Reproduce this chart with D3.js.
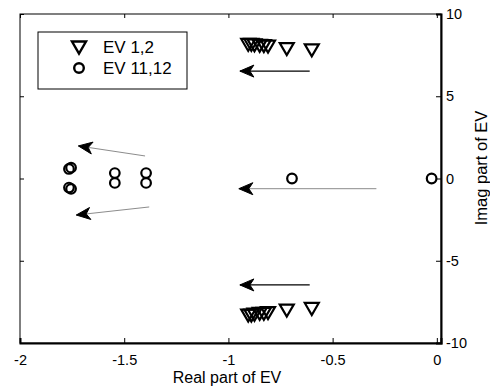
<!doctype html>
<html>
<head>
<meta charset="utf-8">
<script src="https://d3js.org/d3.v7.min.js"></script>
<style>
body { margin: 0; background: #fff; }
svg text { font-family: Arial, "Liberation Sans", sans-serif; font-size: 16px; }
</style>
</head>
<body>
<script>
// eigenvalues 1,2 (triangles), upper and lower conjugate branch
var ev12Real = [-0.905, -0.89, -0.875, -0.85, -0.83, -0.81, -0.72, -0.60];
var ev12ImagUp = [8.15, 8.15, 8.12, 8.1, 8.08, 8.05, 7.9, 7.82];
var ev12ImagDown = [-8.3, -8.3, -8.25, -8.2, -8.2, -8.15, -8.0, -7.9];

// eigenvalues 11,12 (circles)
var ev1112Real = [-1.765, -1.755, -1.765, -1.755, -1.545, -1.545, -1.395, -1.395, -0.695, -0.025];
var ev1112Imag = [0.58, 0.66, -0.55, -0.63, 0.33, -0.27, 0.33, -0.27, 0.0, 0.0];

// arrows [x1, y1, x2, y2] in data units, tip at (x2, y2)
var arrowsBlack = [[-0.61, 6.53, -0.945, 6.53], [-0.61, -6.47, -0.945, -6.47]];
var arrowsGray = [[-0.29, -0.62, -0.95, -0.62], [-1.40, 1.37, -1.72, 1.98], [-1.38, -1.73, -1.73, -2.22]];

var xTicks = [-2, -1.5, -1, -0.5, 0];
var yTicks = [-10, -5, 0, 5, 10];
var legendLabels = ["EV 1,2", "EV 11,12"];

var W = 490, H = 391;
var svg = d3.select("body").append("svg").attr("width", W).attr("height", H);

var x = d3.scaleLinear().domain([-2, 0.02]).range([20, 441]);
var y = d3.scaleLinear().domain([-10, 10]).range([343, 14]);

var tri = "M-7,-5.5L7,-5.5L0,6.5Z";
var fmt = function(d) { return String(d); };

// box
svg.append("rect").attr("x", 20).attr("y", 14).attr("width", 421).attr("height", 329)
  .attr("fill", "none").attr("stroke", "#000").attr("stroke-width", 1);

// bottom axis
var gx = svg.append("g").attr("transform", "translate(0,343)")
  .call(d3.axisBottom(x).tickValues(xTicks).tickSize(-5).tickPadding(12).tickFormat(fmt));
gx.select(".domain").attr("stroke-width", 2);
// top ticks
svg.append("g").attr("transform", "translate(0,14)")
  .call(d3.axisTop(x).tickValues(xTicks).tickSize(-4).tickFormat(""))
  .select(".domain").remove();
// left ticks
svg.append("g").attr("transform", "translate(20,0)")
  .call(d3.axisLeft(y).tickValues(yTicks).tickSize(-4).tickFormat(""))
  .select(".domain").remove();
// right axis with labels
var gy = svg.append("g").attr("transform", "translate(441,0)")
  .call(d3.axisRight(y).tickValues(yTicks).tickSize(-5).tickPadding(10).tickFormat(fmt));
gy.select(".domain").attr("stroke-width", 2);
gy.selectAll(".tick text").attr("x", 5);

svg.selectAll(".tick text").style("font-size", "14.5px").attr("fill", "#000")
  .style("font-family", "Arial, 'Liberation Sans', sans-serif");

// axis titles
svg.append("text").attr("x", 227).attr("y", 383).attr("text-anchor", "middle").text("Real part of EV");
svg.append("text").attr("transform", "translate(487,168) rotate(-90)")
  .attr("text-anchor", "middle").style("font-size", "16.5px").text("Imag part of EV");

// arrows
function arrow(a, color, width) {
  var x1 = x(a[0]), y1 = y(a[1]), x2 = x(a[2]), y2 = y(a[3]);
  var ang = Math.atan2(y2 - y1, x2 - x1);
  svg.append("line").attr("x1", x1).attr("y1", y1).attr("x2", x2).attr("y2", y2)
    .attr("stroke", color).attr("stroke-width", width);
  var L = 14, Wd = 6, N = 10;
  var c = Math.cos(ang), s = Math.sin(ang);
  function pt(u, v) { return [x2 - u * c - v * s, y2 - u * s + v * c]; }
  var p = [pt(0, 0), pt(L, -Wd), pt(N, 0), pt(L, Wd)];
  svg.append("path").attr("d", "M" + p.join("L") + "Z").attr("fill", "#000")
    .attr("stroke", "#000").attr("stroke-width", 1).attr("stroke-linejoin", "round");
}
arrowsBlack.forEach(function(a) { arrow(a, "#000", 1.2); });
arrowsGray.forEach(function(a) { arrow(a, "#8c8c8c", 1); });

// triangles
var triData = ev12Real.map(function(r, i) { return [r, ev12ImagUp[i]]; })
  .concat(ev12Real.map(function(r, i) { return [r, ev12ImagDown[i]]; }));
svg.append("g").selectAll("path").data(triData).join("path")
  .attr("transform", function(d) { return "translate(" + x(d[0]) + "," + y(d[1]) + ")"; })
  .attr("d", tri).attr("fill", "none").attr("stroke", "#000").attr("stroke-width", 2.2)
  .attr("stroke-linejoin", "miter");

// circles
svg.append("g").selectAll("circle").data(ev1112Real).join("circle")
  .attr("cx", function(d) { return x(d); })
  .attr("cy", function(d, i) { return y(ev1112Imag[i]); })
  .attr("r", 4.8).attr("fill", "none").attr("stroke", "#000").attr("stroke-width", 2.2);

// legend
var lg = svg.append("g");
lg.append("rect").attr("x", 38).attr("y", 32).attr("width", 149).attr("height", 57)
  .attr("fill", "#fff").attr("stroke", "#000").attr("stroke-width", 1);
lg.append("path").attr("transform", "translate(79,47)").attr("d", tri)
  .attr("fill", "none").attr("stroke", "#000").attr("stroke-width", 2.4);
lg.append("circle").attr("cx", 79).attr("cy", 68).attr("r", 4.8)
  .attr("fill", "none").attr("stroke", "#000").attr("stroke-width", 2.4);
lg.selectAll("text.lab").data(legendLabels).join("text").attr("class", "lab")
  .attr("x", 103).attr("y", function(d, i) { return 53 + i * 21; })
  .style("font-size", "17px").text(function(d) { return d; });
</script>
</body>
</html>
